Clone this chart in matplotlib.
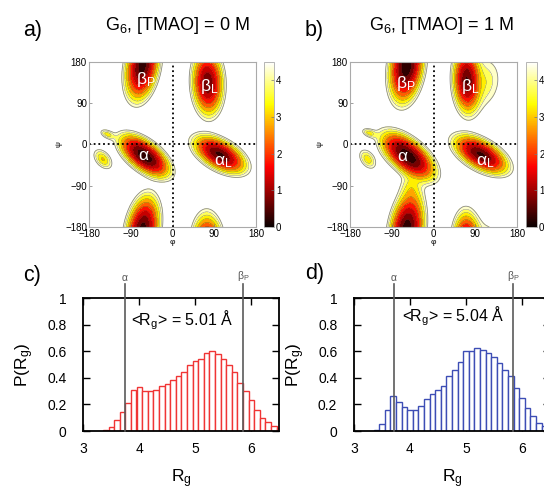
import numpy as np
import matplotlib
matplotlib.use('Agg')
import matplotlib.pyplot as plt
from matplotlib import colors, cm

plt.rcParams['font.family'] = ['Liberation Sans', 'DejaVu Sans']
plt.rcParams['mathtext.fontset'] = 'custom'
plt.rcParams['mathtext.rm'] = 'Liberation Sans'
plt.rcParams['mathtext.it'] = 'Liberation Sans:italic'
plt.rcParams['mathtext.bf'] = 'Liberation Sans:bold'
plt.rcParams['mathtext.sf'] = 'Liberation Sans'

# ---------------- data ----------------
# free energy basins (phi, psi centres in degrees, half-length / half-width of the
# F = 4.5 boundary, orientation of long axis, minimum free energy)
basin_phi_a = [-60, 102, -65, 76, -140, -150]
basin_psi_a = [-25, -22, 172, 135, 22, -32]
basin_len_a = [78, 75, 92, 85, 15, 24]
basin_wid_a = [38, 38, 42, 40, 8, 15]
basin_ang_a = [-38, -30, 80, 92, -25, -50]
basin_fmin_a = [0.0, 0.3, 0.15, 0.5, 3.2, 2.9]

basin_phi_b = [-55, 102, -58, 72, -138, -142, -48, 110]
basin_psi_b = [-25, -22, 172, 140, 25, -32, -100, 135]
basin_len_b = [85, 78, 98, 85, 15, 22, 35, 45]
basin_wid_b = [42, 38, 44, 36, 8, 14, 20, 28]
basin_ang_b = [-40, -30, 82, 92, -20, -55, 90, 80]
basin_fmin_b = [0.0, 0.3, 0.0, 0.4, 3.2, 3.1, 3.3, 3.6]

label_text = [r'$\mathrm{\alpha}$', r'$\mathrm{\alpha_L}$', r'$\mathrm{\beta_P}$', r'$\mathrm{\beta_L}$']
label_phi_a = [-62, 110, -58, 80]
label_psi_a = [-25, -38, 142, 127]
label_phi_b = [-66, 112, -60, 80]
label_psi_b = [-27, -38, 134, 127]

# Rg histograms
rg_c = [3.4, 3.5, 3.6, 3.7, 3.8, 3.9, 4.0, 4.1, 4.2, 4.3, 4.4, 4.5, 4.6, 4.7, 4.8, 4.9,
        5.0, 5.1, 5.2, 5.3, 5.4, 5.5, 5.6, 5.7, 5.8, 5.9, 6.0, 6.1, 6.2, 6.3, 6.4, 6.5]
p_c = [0.005, 0.03, 0.08, 0.14, 0.21, 0.31, 0.33, 0.30, 0.30, 0.31, 0.34, 0.35, 0.38, 0.41,
       0.44, 0.50, 0.53, 0.54, 0.59, 0.60, 0.58, 0.545, 0.50, 0.44, 0.36, 0.30, 0.23, 0.16,
       0.10, 0.07, 0.04, 0.025]
rg_d = [3.4, 3.5, 3.6, 3.7, 3.8, 3.9, 4.0, 4.1, 4.2, 4.3, 4.4, 4.5, 4.6, 4.7, 4.8, 4.9,
        5.0, 5.1, 5.2, 5.3, 5.4, 5.5, 5.6, 5.7, 5.8, 5.9, 6.0, 6.1, 6.2, 6.3, 6.4]
p_d = [0.005, 0.05, 0.16, 0.26, 0.22, 0.18, 0.16, 0.155, 0.19, 0.24, 0.28, 0.31, 0.34, 0.41,
       0.46, 0.52, 0.60, 0.60, 0.625, 0.61, 0.59, 0.56, 0.51, 0.46, 0.41, 0.32, 0.25, 0.17,
       0.11, 0.06, 0.04]
ref_alpha_c, ref_betaP_c = 3.74, 5.85
ref_alpha_d, ref_betaP_d = 3.71, 5.84
mean_rg_c, mean_rg_d = 5.01, 5.04

FMAX = 4.5

# ---------------- helpers ----------------
def free_energy(phi0, psi0, lens, wids, angs, fmins):
    g = np.linspace(-180, 180, 361)
    PHI, PSI = np.meshgrid(g, g)
    acc = np.zeros_like(PHI)
    for p0, s0, L, Wd, a, f0 in zip(phi0, psi0, lens, wids, angs, fmins):
        dphi = (PHI - p0 + 180) % 360 - 180
        dpsi = (PSI - s0 + 180) % 360 - 180
        t = np.deg2rad(a)
        u = dphi * np.cos(t) + dpsi * np.sin(t)
        v = -dphi * np.sin(t) + dpsi * np.cos(t)
        r = np.sqrt((u / L) ** 2 + (v / Wd) ** 2)
        F = f0 + (FMAX - f0) * r ** 1.6
        acc += np.exp(-F)
    F = -np.log(acc + 1e-30)
    return g, F


fig = plt.figure(figsize=(5.44, 4.86), dpi=100)
W, H = 544.0, 486.0


def ax_px(x0, y0, x1, y1):
    return [x0 / W, 1 - y1 / H, (x1 - x0) / W, (y1 - y0) / H]


cmap = plt.get_cmap('hot')
norm = colors.Normalize(0, FMAX)


def rama(rect, crect, params, lab_phi, lab_psi):
    ax = fig.add_axes(ax_px(*rect))
    g, F = free_energy(*params)
    levels = np.arange(0, FMAX + 0.01, 0.5)
    ax.contourf(g, g, F, levels=levels, cmap=cmap, norm=norm)
    ax.contour(g, g, F, levels=levels[1:-1], colors='#2a2a2a', linewidths=0.3, alpha=0.6)
    ax.contour(g, g, F, levels=[FMAX], colors='#8a8a8a', linewidths=0.6)
    ax.axhline(0, color='k', ls=(0, (1, 1.6)), lw=1.3)
    ax.axvline(0, color='k', ls=(0, (1, 1.6)), lw=1.3)
    for t, x, y in zip(label_text, lab_phi, lab_psi):
        ax.text(x, y, t, color='white', fontsize=12.5, ha='center', va='center')
    ax.set_xlim(-180, 180)
    ax.set_ylim(-180, 180)
    ax.set_xticks([-180, -90, 0, 90, 180])
    ax.set_yticks([-180, -90, 0, 90, 180])
    ax.tick_params(direction='in', length=2, width=0.5, color='#777777', labelsize=7, pad=1.5)
    for s in ax.spines.values():
        s.set_color('#aaaaaa')
        s.set_linewidth(0.8)
    ax.set_xlabel('φ', fontsize=6, labelpad=0)
    ax.set_ylabel('ψ', fontsize=6, labelpad=2)
    cax = fig.add_axes(ax_px(*crect))
    cb = fig.colorbar(cm.ScalarMappable(norm=norm, cmap=cmap), cax=cax, ticks=[0, 1, 2, 3, 4])
    cb.outline.set_edgecolor('#aaaaaa')
    cb.outline.set_linewidth(0.6)
    cax.tick_params(direction='in', length=2, width=0.5, color='#777777', labelsize=7, pad=1.5)
    return ax


rama((89, 62, 256, 227), (264, 62, 274, 227),
     (basin_phi_a, basin_psi_a, basin_len_a, basin_wid_a, basin_ang_a, basin_fmin_a),
     label_phi_a, label_psi_a)
rama((350, 62, 517, 227), (526, 62, 537, 227),
     (basin_phi_b, basin_psi_b, basin_len_b, basin_wid_b, basin_ang_b, basin_fmin_b),
     label_phi_b, label_psi_b)


def hist(rect, rg, p, col, ra, rb, mean, ty):
    ax = fig.add_axes(ax_px(*rect))
    ax.bar(rg, p, width=0.1, color='white', edgecolor=col, linewidth=1.0, zorder=2)
    for xv, lab in ((ra, r'$\mathrm{\alpha}$'), (rb, r'$\mathrm{\beta_P}$')):
        ax.plot([xv, xv], [0, 1.105], color='#5a5a5a', lw=1.2, clip_on=False, zorder=3)
        ax.text(xv, 1.115, lab, color='#555555', fontsize=7.5, ha='center', va='bottom')
    ax.text(4.77, ty, r'<R$_\mathrm{g}$> = %.2f Å' % mean, fontsize=11.5, ha='center', va='center', zorder=4)
    ax.set_xlim(3, 6.5)
    ax.set_ylim(0, 1)
    ax.set_xticks([3, 4, 5, 6])
    ax.set_yticks([0, 0.2, 0.4, 0.6, 0.8, 1])
    ax.set_yticklabels(['0', '0.2', '0.4', '0.6', '0.8', '1'])
    ax.tick_params(direction='in', length=5, width=1, top=True, right=True, labelsize=10)
    ax.tick_params(axis='x', pad=8)
    ax.tick_params(axis='y', pad=12)
    for s in ax.spines.values():
        s.set_linewidth(1.3)
    ax.set_xlabel(r'R$_\mathrm{g}$', fontsize=12.5, labelpad=8)
    ax.set_ylabel(r'P(R$_\mathrm{g}$)', fontsize=12.5, labelpad=8)
    return ax


hist((83.3, 298, 279.3, 431), rg_c, p_c, '#f03535', ref_alpha_c, ref_betaP_c, mean_rg_c, 0.835)
hist((354, 298, 550, 431), rg_d, p_d, '#3d4db5', ref_alpha_d, ref_betaP_d, mean_rg_d, 0.86)

# panel letters and titles
for x, y, t in ((23, 30, 'a)'), (305, 30, 'b)'), (23, 276, 'c)'), (305, 273, 'd)')):
    fig.text(x / W, 1 - y / H, t, fontsize=15.5, ha='left', va='center')
fig.text(177 / W, 1 - 25 / H, r'G$_6$, [TMAO] = 0 M', fontsize=13, ha='center', va='center')
fig.text(441 / W, 1 - 25 / H, r'G$_6$, [TMAO] = 1 M', fontsize=13, ha='center', va='center')

fig.savefig('out.png', dpi=100)
